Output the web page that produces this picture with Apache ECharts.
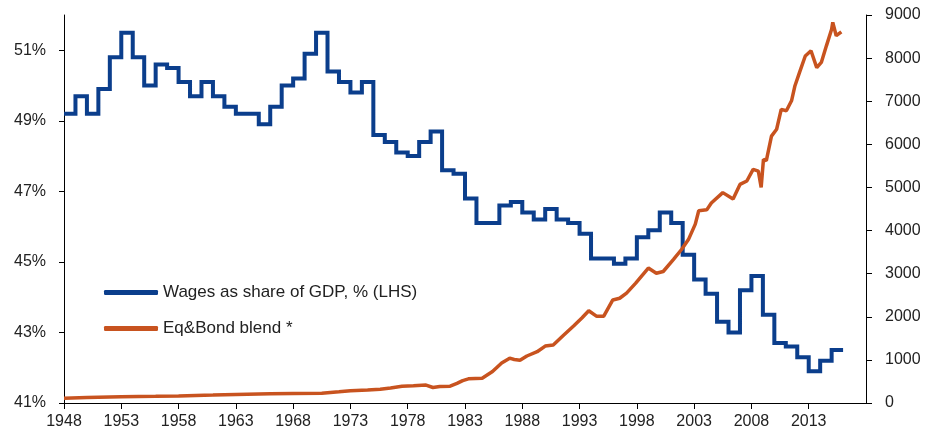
<!DOCTYPE html>
<html>
<head>
<meta charset="utf-8">
<script src="https://cdn.jsdelivr.net/npm/echarts@6/dist/echarts.min.js"></script>
<style>html,body{margin:0;padding:0;background:#fff}#c{width:927px;height:437px}</style>
</head>
<body>
<div id="c"></div>
<script>
// Wages as share of GDP, % (annual step values, year -> value held through the year)
const wageYears = [1948,1949,1950,1951,1952,1953,1954,1955,1956,1957,1958,1959,1960,1961,1962,1963,1964,1965,1966,1967,1968,1969,1970,1971,1972,1973,1974,1975,1976,1977,1978,1979,1980,1981,1982,1983,1984,1985,1986,1987,1988,1989,1990,1991,1992,1993,1994,1995,1996,1997,1998,1999,2000,2001,2002,2003,2004,2005,2006,2007,2008,2009,2010,2011,2012,2013,2014,2015,2016];
const wageValues = [49.2,49.7,49.2,49.9,50.8,51.5,50.8,50.0,50.6,50.5,50.1,49.7,50.1,49.7,49.4,49.2,49.2,48.9,49.4,50.0,50.2,50.9,51.5,50.4,50.1,49.8,50.1,48.6,48.4,48.1,48.0,48.4,48.7,47.6,47.5,46.8,46.1,46.1,46.6,46.7,46.4,46.2,46.5,46.2,46.1,45.8,45.1,45.1,44.95,45.1,45.7,45.9,46.4,46.1,45.2,44.5,44.1,43.3,43.0,44.2,44.6,43.5,42.7,42.6,42.3,41.9,42.2,42.5,42.5];

// Eq&Bond blend (RHS)
const blendYears = [1948,1950,1953,1956,1958,1961,1963,1966,1968,1970.5,1972,1973,1974.5,1975.6,1976.5,1977.5,1978.5,1979.6,1980.2,1980.8,1981.7,1982.3,1982.8,1983.3,1984.5,1985.4,1986.2,1986.9,1987.3,1987.8,1988.4,1989.3,1990.0,1990.7,1991.6,1992.5,1993.2,1993.8,1994.5,1995.1,1995.9,1996.5,1997.1,1997.9,1999.0,1999.7,2000.3,2001.2,2001.9,2002.5,2003.1,2003.4,2004.1,2004.5,2005.5,2006.4,2007.0,2007.6,2008.15,2008.6,2008.85,2009.05,2009.3,2009.75,2010.2,2010.6,2011.05,2011.5,2011.8,2012.2,2012.7,2013.2,2013.7,2014.1,2014.55,2015.0,2015.1,2015.4,2015.85];
const blendValues = [110,125,145,155,165,185,200,212,220,225,260,285,300,320,350,390,400,415,360,385,390,455,520,560,575,730,930,1040,1010,990,1090,1190,1320,1345,1570,1790,1970,2140,2010,2010,2390,2430,2550,2780,3130,3010,3050,3330,3560,3790,4150,4460,4480,4640,4880,4730,5070,5150,5420,5380,5000,5650,5620,6190,6350,6810,6780,7010,7360,7670,8050,8170,7780,7900,8290,8670,8830,8520,8610];

const leftTicks = [41,43,45,47,49,51];
const seriesNames = ['Wages as share of GDP, % (LHS)', 'Eq&Bond blend *'];

const BLUE = '#0b3e8c', ORANGE = '#c8531f', TXT = '#222222';
const FONT = 'Liberation Sans, Arial, sans-serif';

const chart = echarts.init(document.getElementById('c'), null, {renderer: 'canvas'});
chart.setOption({
  animation: false,
  backgroundColor: '#ffffff',
  textStyle: {fontFamily: FONT},
  grid: {left: 64, right: 61, top: 15, bottom: 34, containLabel: false},
  legend: {
    orient: 'vertical', left: 104, top: 284, padding: 0, itemWidth: 54, itemHeight: 5, itemGap: 19,
    icon: 'roundRect',
    textStyle: {fontSize: 17, color: TXT, fontFamily: FONT},
    data: [
      {name: seriesNames[0], itemStyle: {color: BLUE}},
      {name: seriesNames[1], itemStyle: {color: ORANGE}}
    ]
  },
  xAxis: {
    type: 'value', min: 1948, max: 2018, interval: 5,
    axisLine: {show: true, lineStyle: {color: '#000', width: 1}},
    axisTick: {show: true, length: 6, lineStyle: {color: '#000'}},
    splitLine: {show: false},
    axisLabel: {showMaxLabel: false, fontSize: 16, color: TXT, margin: 11, formatter: v => String(v)}
  },
  yAxis: [
    {
      type: 'value', min: 41, max: 52, position: 'left',
      axisLine: {show: true, lineStyle: {color: '#000', width: 1}},
      axisTick: {show: true, length: 5, lineStyle: {color: '#000'}, customValues: leftTicks},
      splitLine: {show: false},
      axisLabel: {fontSize: 16, color: TXT, margin: 18, customValues: leftTicks, formatter: v => v + '%'}
    },
    {
      type: 'value', min: 0, max: 9000, interval: 1000, position: 'right',
      axisLine: {show: true, lineStyle: {color: '#000', width: 1}},
      axisTick: {show: true, length: 6, lineStyle: {color: '#000'}},
      splitLine: {show: false},
      axisLabel: {fontSize: 16, color: TXT, margin: 19, formatter: v => String(v)}
    }
  ],
  series: [
    {
      name: seriesNames[0], type: 'line', yAxisIndex: 0, step: 'end',
      showSymbol: false, symbol: 'none',
      lineStyle: {color: BLUE, width: 4, join: 'miter'},
      itemStyle: {color: BLUE},
      data: wageYears.map((y, i) => [y, wageValues[i]])
    },
    {
      name: seriesNames[1], type: 'line', yAxisIndex: 1,
      showSymbol: false, symbol: 'none',
      lineStyle: {color: ORANGE, width: 3.5},
      itemStyle: {color: ORANGE},
      data: blendYears.map((y, i) => [y, blendValues[i]])
    }
  ]
});
</script>
</body>
</html>
